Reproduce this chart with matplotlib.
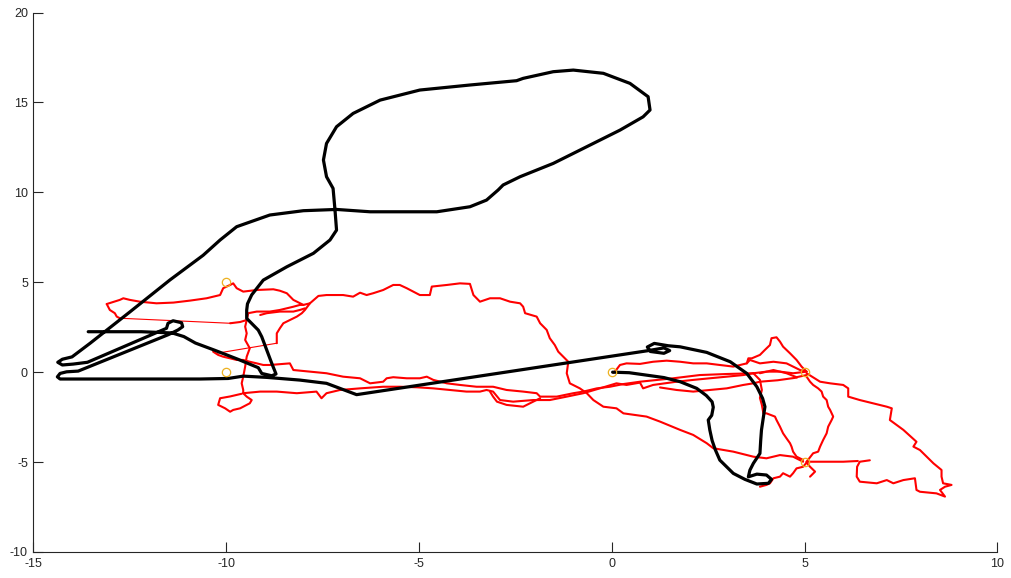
import matplotlib
matplotlib.use("Agg")
import matplotlib.pyplot as plt

# ---------------- data ----------------
x_ticks = [-15, -10, -5, 0, 5, 10]
y_ticks = [-10, -5, 0, 5, 10, 15, 20]

# reference anchors
anchors = [(-10, 5), (-10, 0), (0, 0), (5, 0), (5, -5)]

# ground-truth path
truth_path = [
    (0.02, 0.0), (0.45, -0.03), (0.89, -0.16), (1.35, -0.3), (1.77, -0.53), (2.2, -0.9),
    (2.45, -1.3), (2.6, -1.65), (2.63, -1.95), (2.59, -2.4), (2.5, -2.66), (2.54, -3.21),
    (2.6, -3.8), (2.68, -4.3), (2.8, -4.89), (3.15, -5.63), (3.45, -5.96), (3.76, -6.22),
    (4.06, -6.18), (4.14, -5.96), (4.01, -5.72), (3.76, -5.67), (3.54, -5.82), (3.58, -5.45),
    (3.67, -5.07), (3.84, -4.52), (3.86, -3.8), (3.88, -3.22), (3.93, -2.5), (3.97, -1.92),
    (3.91, -1.46), (3.76, -0.81), (3.5, -0.07), (3.07, 0.58), (2.46, 1.1), (1.77, 1.41),
    (1.46, 1.47), (1.1, 1.6), (0.92, 1.4), (1.0, 1.15), (1.35, 1.05), (1.5, 1.2), (1.35, 1.35),
    (0.95, 1.2), (-6.62, -1.25), (-7.05, -0.9), (-7.4, -0.62), (-8.09, -0.44), (-8.95, -0.29),
    (-9.56, -0.22), (-9.95, -0.35), (-10.68, -0.38), (-12.5, -0.38), (-14.31, -0.38),
    (-14.38, -0.26), (-14.31, -0.07), (-14.14, 0.02), (-13.84, 0.06), (-11.51, 2.08),
    (-11.42, 2.17), (-11.25, 2.35), (-11.13, 2.53), (-11.16, 2.75), (-11.38, 2.86),
    (-11.51, 2.72), (-11.55, 2.44), (-13.6, 0.55), (-13.97, 0.45), (-14.25, 0.4),
    (-14.37, 0.55), (-14.25, 0.72), (-14.0, 0.85), (-13.53, 1.61), (-12.5, 3.35),
    (-11.46, 5.13), (-10.6, 6.5), (-10.16, 7.35), (-9.73, 8.09), (-8.87, 8.74), (-8.0, 8.98),
    (-7.14, 9.05), (-6.27, 8.92), (-5.41, 8.92), (-4.54, 8.92), (-3.68, 9.2), (-3.25, 9.57),
    (-2.95, 10.13), (-2.82, 10.41), (-2.38, 10.87), (-1.52, 11.61), (-0.65, 12.54),
    (0.21, 13.46), (0.81, 14.2), (0.99, 14.58), (0.94, 15.32), (0.47, 16.06), (-0.22, 16.62),
    (-1.0, 16.8), (-1.52, 16.71), (-2.3, 16.34), (-2.47, 16.21), (-3.68, 15.97),
    (-4.98, 15.69), (-6.01, 15.13), (-6.71, 14.39), (-7.14, 13.65), (-7.4, 12.72),
    (-7.48, 11.8), (-7.4, 10.87), (-7.23, 10.22), (-7.18, 9.02), (-7.14, 7.9), (-7.31, 7.35),
    (-7.74, 6.61), (-8.43, 5.86), (-9.04, 5.12), (-9.34, 4.3), (-9.45, 3.8), (-9.47, 3.45),
    (-9.47, 2.99), (-9.3, 2.62), (-9.17, 2.34), (-9.08, 1.97), (-8.95, 1.23), (-8.82, 0.49),
    (-8.71, -0.1), (-8.82, -0.2), (-9.08, -0.07), (-9.17, 0.25), (-9.7, 0.72), (-10.3, 1.22),
    (-10.8, 1.62), (-11.1, 1.98), (-11.4, 2.18), (-12.2, 2.25), (-13.58, 2.25),
]

# estimated path, drawn as separate strokes
est_west_north = [
    (-13.10, 3.79), (-12.76, 4.02), (-12.67, 4.11), (-12.50, 4.02), (-12.24, 3.92),
    (-11.81, 3.83), (-11.37, 3.87), (-10.94, 3.98), (-10.51, 4.11), (-10.16, 4.29),
    (-10.08, 4.67), (-9.90, 4.85), (-9.82, 4.94), (-9.73, 4.67), (-9.56, 4.48),
    (-9.21, 4.57), (-8.78, 4.61), (-8.61, 4.53), (-8.43, 4.39), (-8.26, 4.02),
    (-8.00, 3.74), (-7.83, 3.83), (-7.61, 4.24), (-7.40, 4.29), (-6.97, 4.29),
    (-6.71, 4.20), (-6.53, 4.42), (-6.36, 4.29), (-6.19, 4.39), (-5.93, 4.57),
    (-5.67, 4.85), (-5.50, 4.85), (-5.32, 4.67), (-4.98, 4.29), (-4.72, 4.29),
    (-4.67, 4.76), (-4.28, 4.85), (-3.94, 4.94), (-3.68, 4.91), (-3.59, 4.29),
    (-3.42, 3.92), (-3.16, 4.11), (-2.90, 4.11), (-2.64, 3.92), (-2.38, 3.83),
    (-2.30, 3.64), (-2.25, 3.28), (-1.95, 3.09), (-1.86, 2.72), (-1.69, 2.35),
    (-1.61, 1.89), (-1.48, 1.51), (-1.39, 1.14), (-1.26, 0.86), (-1.13, 0.58),
    (-1.17, -0.06), (-1.09, -0.62), (-0.83, -0.90), (-0.65, -1.17), (-0.48, -1.55),
    (-0.22, -1.92), (0.12, -2.01), (0.30, -2.29), (0.90, -2.47), (1.25, -2.75),
    (1.77, -3.21), (2.11, -3.49), (2.46, -3.95), (2.63, -4.23), (3.15, -4.42),
    (3.67, -4.70), (4.01, -4.79), (4.36, -4.61), (4.70, -4.70), (4.96, -4.98),
]
est_west_south = [
    (-13.10, 3.79), (-13.02, 3.46), (-12.89, 3.28), (-12.84, 3.09), (-12.76, 3.00),
]
est_west_mid = [
    (-9.90, 2.72), (-9.64, 2.79), (-9.47, 2.90), (-9.43, 3.28), (-9.21, 3.37),
    (-8.87, 3.37), (-8.61, 3.46), (-8.26, 3.64), (-8.09, 3.74), (-8.00, 3.74),
]
est_cluster = [
    (-9.12, 3.18), (-8.95, 3.28), (-8.61, 3.37), (-8.26, 3.37), (-8.09, 3.46), (-7.96, 3.55),
]
est_climb = [
    (-8.69, 1.61), (-8.69, 2.16), (-8.61, 2.44), (-8.52, 2.72), (-8.35, 2.90),
    (-8.17, 3.09), (-8.04, 3.28), (-7.96, 3.46), (-7.83, 3.83),
]
est_vertical = [
    (-9.47, 2.90), (-9.51, 2.53), (-9.47, 2.16), (-9.51, 1.79), (-9.39, 1.33),
    (-9.47, 0.86), (-9.51, 0.31), (-9.56, -0.25), (-9.60, -0.62), (-9.56, -0.99),
    (-9.56, -1.17),
]
est_sw_loop = [
    (-9.56, -1.17), (-9.47, -1.36), (-9.34, -1.55), (-9.39, -1.73), (-9.64, -2.01),
    (-9.82, -2.10), (-9.90, -2.20), (-10.03, -2.01), (-10.21, -1.82), (-10.16, -1.45),
    (-9.90, -1.35), (-9.60, -1.20),
]
est_south_lower = [
    (-9.56, -1.17), (-9.12, -1.08), (-8.69, -1.08), (-8.17, -1.17), (-7.66, -1.08),
    (-7.53, -1.45), (-7.40, -1.17), (-7.05, -0.99), (-6.53, -0.90), (-5.93, -0.81),
    (-5.50, -0.81), (-5.06, -0.84), (-4.63, -0.90), (-4.20, -0.99), (-3.77, -1.08),
    (-3.42, -1.08), (-3.25, -0.99), (-3.08, -1.08), (-2.90, -1.55), (-2.56, -1.64),
    (-2.04, -1.55), (-1.61, -1.55), (-1.17, -1.36), (-0.74, -1.17), (-0.31, -0.90),
    (0.12, -0.62), (0.38, -0.71), (0.73, -0.58), (0.81, -0.90), (1.07, -0.71),
    (1.68, -0.53), (2.11, -0.43), (2.54, -0.34), (2.98, -0.25), (3.41, -0.16),
    (3.67, -0.06), (4.01, 0.03), (4.36, 0.03), (4.70, -0.06), (5.05, 0.03),
]
est_south_upper = [
    (-10.34, 1.14), (-10.21, 0.96), (-10.08, 0.86), (-9.90, 0.77), (-9.73, 0.68),
    (-9.56, 0.68), (-9.39, 0.58), (-9.21, 0.49), (-9.04, 0.40), (-8.87, 0.40),
    (-8.35, 0.49), (-8.26, 0.12), (-7.83, 0.03), (-7.40, -0.06), (-6.97, -0.25),
    (-6.53, -0.34), (-6.27, -0.62), (-5.93, -0.53), (-5.84, -0.34), (-5.67, -0.28),
    (-5.32, -0.34), (-4.98, -0.34), (-4.80, -0.25), (-4.63, -0.43), (-4.28, -0.62),
    (-3.94, -0.71), (-3.51, -0.81), (-3.08, -0.81), (-2.73, -0.99), (-2.30, -1.08),
    (-1.95, -1.17), (-1.86, -1.36), (-1.43, -1.36), (-1.00, -1.17), (-0.74, -1.08),
    (-0.39, -0.90), (-0.05, -0.81), (0.30, -0.66), (0.73, -0.53), (1.59, -0.34),
    (2.28, -0.16), (3.00, -0.10), (3.67, -0.06),
]
est_south_dip = [
    (-3.16, -1.08), (-3.08, -1.36), (-2.98, -1.64), (-2.73, -1.82), (-2.30, -1.92),
    (-2.04, -1.64), (-1.86, -1.45),
]
est_east_north = [
    (0.04, -0.03), (0.08, 0.03), (0.21, 0.40), (0.38, 0.49), (0.73, 0.46), (1.07, 0.58),
    (1.42, 0.64), (1.77, 0.58), (2.11, 0.49), (2.46, 0.49), (2.80, 0.40), (3.15, 0.31),
    (3.50, 0.49), (3.58, 0.68), (3.84, 0.49), (4.19, 0.58), (4.53, 0.49), (4.70, 0.31),
    (4.88, 0.12), (5.05, 0.03),
]
est_peak = [
    (3.50, 0.49), (3.54, 0.77), (3.63, 0.77), (3.84, 0.96), (3.97, 1.24), (4.10, 1.51),
    (4.14, 1.89), (4.27, 1.94), (4.36, 1.70), (4.44, 1.42), (4.62, 1.05), (4.79, 0.68),
    (4.92, 0.31), (5.05, 0.03),
]
est_east_mid = [
    (3.84, -0.06), (4.19, 0.12), (4.53, -0.06), (4.79, -0.28), (5.05, -0.16),
]
est_east_link = [
    (1.25, -0.85), (1.68, -0.99), (2.11, -1.08), (2.54, -0.99), (2.98, -0.90),
    (3.41, -0.71), (3.67, -0.62), (3.84, -0.53), (4.3, -0.45), (4.8, -0.3),
]
est_triangle = [
    (5.05, -0.06), (5.40, -0.53), (5.66, -0.62), (6.00, -0.71), (6.13, -0.90),
    (6.13, -1.36), (6.43, -1.55), (7.13, -1.92), (7.26, -2.01), (7.21, -2.66),
    (7.56, -3.21), (7.90, -3.87), (7.82, -4.14), (7.99, -4.33), (8.34, -5.07),
    (8.55, -5.44), (8.55, -5.81), (8.59, -6.18), (8.81, -6.27), (8.64, -6.37),
    (8.51, -6.55), (8.64, -6.92), (8.42, -6.74), (7.99, -6.65), (7.90, -6.55),
    (7.86, -5.90), (7.56, -6.00), (7.30, -6.18), (7.13, -6.00), (6.87, -6.18),
    (6.43, -6.09), (6.35, -5.81), (6.36, -5.26), (6.43, -4.98), (6.69, -4.90),
]
est_tail = [
    (5.05, -4.98), (5.57, -4.98), (6.00, -4.98), (6.38, -4.94),
]
est_triangle_west = [
    (5.05, -4.98), (5.22, -4.51), (5.35, -4.42), (5.40, -4.14), (5.48, -3.77),
    (5.57, -3.40), (5.61, -3.03), (5.70, -2.66), (5.74, -2.47), (5.66, -2.10),
    (5.61, -1.92), (5.57, -1.55), (5.48, -1.36), (5.44, -1.08), (5.35, -0.90),
    (5.22, -0.71), (5.14, -0.53), (5.05, -0.25),
]
est_inner = [
    (3.67, -0.06), (3.84, -0.43), (3.89, -0.99), (3.84, -1.43), (3.89, -1.82),
    (3.93, -2.29), (4.01, -2.29), (4.23, -2.47), (4.27, -2.66), (4.36, -3.03),
    (4.44, -3.40), (4.53, -3.68), (4.62, -3.95), (4.66, -4.14), (4.70, -4.42),
    (4.79, -4.70), (4.96, -4.88),
]
est_se_knot = [
    (5.05, -5.03), (4.96, -5.26), (4.79, -5.35), (4.70, -5.62), (4.62, -5.81),
    (4.44, -5.62), (4.36, -5.81), (4.19, -5.90), (4.10, -6.18), (4.01, -6.27),
    (3.84, -6.37),
]
est_se_spur = [
    (5.05, -5.03), (5.14, -5.26), (5.27, -5.53), (5.14, -5.81),
]
# sparse straight hops
est_hops = [
    [(-12.76, 3.00), (-9.90, 2.72)],
    [(-10.25, 1.05), (-8.69, 1.61)],
]

thick_strokes = [
    est_west_north, est_west_south, est_west_mid, est_cluster, est_climb,
    est_vertical, est_sw_loop, est_south_lower, est_south_upper, est_south_dip,
    est_east_north, est_peak, est_east_mid, est_east_link, est_triangle, est_tail,
    est_triangle_west, est_inner, est_se_knot, est_se_spur,
]

# ---------------- figure ----------------
plt.rcParams['font.family'] = ['Liberation Sans', 'DejaVu Sans']
fig = plt.figure(figsize=(10.11, 5.78), dpi=100)
ax = fig.add_axes([0.0331, 0.045, 0.9535, 0.9333])

for stroke in thick_strokes:
    xs, ys = zip(*stroke)
    ax.plot(xs, ys, color='#ff0000', lw=1.5, solid_joinstyle='round',
            solid_capstyle='round', zorder=2)
for hop in est_hops:
    xs, ys = zip(*hop)
    ax.plot(xs, ys, color='#ff0000', lw=0.8, zorder=2)

tx, ty = zip(*truth_path)
ax.plot(tx, ty, color='black', lw=2.3, solid_joinstyle='round',
        solid_capstyle='round', zorder=3)

axx, axy = zip(*anchors)
ax.plot(axx, axy, linestyle='none', marker='o', markersize=6,
        markerfacecolor='none', markeredgecolor='#EDB120', markeredgewidth=0.9,
        zorder=4)

ax.set_xlim(-15, 10)
ax.set_ylim(-10, 20)
ax.set_xticks(x_ticks)
ax.set_yticks(y_ticks)
ax.set_xticklabels([str(v) for v in x_ticks])
ax.set_yticklabels([str(v) for v in y_ticks])
for side in ('top', 'right'):
    ax.spines[side].set_visible(False)
for side in ('left', 'bottom'):
    ax.spines[side].set_color('#262626')
    ax.spines[side].set_linewidth(0.8)
ax.tick_params(direction='in', length=7, width=0.8, colors='#262626',
               labelsize=9, pad=4)

fig.savefig('out.png', dpi=100)
